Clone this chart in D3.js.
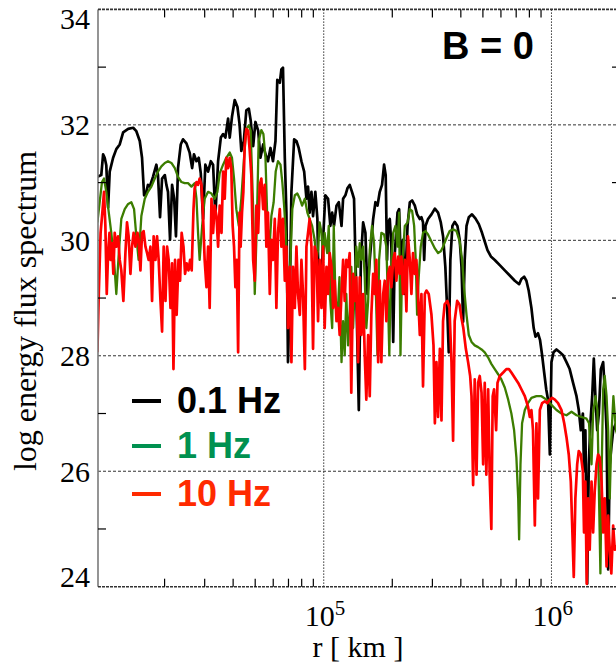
<!DOCTYPE html>
<html>
<head>
<meta charset="utf-8">
<script src="https://cdn.jsdelivr.net/npm/d3@7"></script>
<style>
  body { margin: 0; background: #fff; }
  .sans { font-family: "Liberation Sans", Arial, Helvetica, sans-serif; font-weight: bold; }
  .serif { font-family: "Liberation Serif", "Times New Roman", serif; }
</style>
</head>
<body>
<div class="canvas"></div>
<script>
// each point: [log10 r (km), log energy flux spectrum]
const flux01Hz = [
  [4.006,31.10],[4.023,31.13],[4.031,31.49],[4.038,31.43],[4.045,31.30],[4.053,30.57],[4.060,31.19],
  [4.075,31.43],[4.089,31.58],[4.104,31.66],[4.119,31.87],[4.141,31.93],[4.163,31.95],[4.177,31.89],
  [4.192,31.72],[4.202,31.43],[4.211,30.78],[4.221,30.84],[4.228,30.96],[4.236,30.93],[4.250,31.10],
  [4.265,31.31],[4.272,31.13],[4.281,30.40],[4.290,31.07],[4.302,31.13],[4.309,30.96],[4.316,30.84],
  [4.325,30.01],[4.334,30.96],[4.343,30.72],[4.351,30.07],[4.360,31.25],[4.372,31.66],[4.382,31.75],
  [4.397,31.68],[4.411,31.52],[4.422,31.25],[4.430,31.49],[4.441,31.37],[4.451,31.43],[4.460,31.16],
  [4.470,30.37],[4.480,31.31],[4.492,31.19],[4.504,31.37],[4.514,31.31],[4.524,30.42],[4.536,31.37],
  [4.548,31.78],[4.558,31.84],[4.568,31.78],[4.580,32.11],[4.587,31.78],[4.597,32.14],[4.609,32.43],
  [4.621,32.31],[4.630,32.02],[4.638,31.55],[4.649,31.72],[4.660,32.25],[4.671,32.28],[4.679,32.08],
  [4.690,31.63],[4.700,32.05],[4.712,31.90],[4.722,31.43],[4.734,31.66],[4.744,31.49],[4.755,31.37],
  [4.766,31.60],[4.777,31.37],[4.788,31.72],[4.796,32.78],[4.807,32.73],[4.814,32.96],[4.821,32.99],
  [4.829,31.43],[4.836,30.48],[4.843,27.89],[4.851,29.07],[4.858,30.84],[4.870,31.75],[4.880,31.72],
  [4.890,31.60],[4.902,31.37],[4.914,31.19],[4.924,30.72],[4.931,30.93],[4.938,30.48],[4.946,30.84],
  [4.953,30.42],[4.963,30.84],[4.972,30.37],[4.978,29.07],[4.987,28.95],[4.997,30.01],[5.007,30.78],
  [5.019,30.72],[5.029,30.25],[5.037,30.48],[5.045,30.25],[5.056,30.60],[5.066,30.66],[5.078,30.25],
  [5.085,30.72],[5.095,30.78],[5.104,30.90],[5.114,30.96],[5.124,30.84],[5.133,30.72],[5.143,29.07],
  [5.154,27.06],[5.163,29.66],[5.173,30.31],[5.183,30.13],[5.192,29.07],[5.202,29.66],[5.217,30.37],
  [5.227,30.66],[5.236,30.60],[5.246,30.84],[5.256,30.96],[5.265,31.31],[5.272,31.13],[5.278,29.66],
  [5.283,30.31],[5.290,30.37],[5.297,29.89],[5.305,28.24],[5.312,29.78],[5.324,30.48],[5.331,30.54],
  [5.338,29.66],[5.348,30.01],[5.356,29.07],[5.368,30.25],[5.378,30.66],[5.388,30.69],[5.400,30.60],
  [5.410,30.45],[5.422,30.37],[5.429,30.40],[5.436,30.31],[5.441,29.66],[5.447,30.25],[5.458,30.37],
  [5.473,30.45],[5.488,30.55],[5.502,30.48],[5.514,30.31],[5.524,30.07],[5.534,29.54],[5.543,28.71],
  [5.549,28.06],[5.556,29.66],[5.565,30.25],[5.575,30.32],[5.587,30.25],[5.597,30.01],[5.605,29.54],
  [5.612,28.59],[5.619,29.66],[5.627,30.25],[5.637,30.40],[5.651,30.45],[5.666,30.38],[5.681,30.28],
  [5.695,30.13],[5.707,29.98],[5.719,29.83],[5.734,29.72],[5.751,29.66],[5.773,29.57],[5.795,29.48],
  [5.817,29.39],[5.839,29.30],[5.858,29.24],[5.868,29.33],[5.880,29.37],[5.890,29.30],[5.900,29.13],
  [5.912,28.83],[5.922,28.48],[5.930,28.33],[5.941,28.39],[5.950,28.27],[5.959,28.01],[5.968,27.71],
  [5.977,27.42],[5.985,27.24],[5.993,26.29],[6.000,27.89],[6.009,28.06],[6.022,28.11],[6.037,28.06],
  [6.051,28.01],[6.066,27.89],[6.080,27.77],[6.095,27.53],[6.110,27.30],[6.120,27.06],[6.129,26.71],
  [6.138,27.00],[6.143,26.00],[6.149,26.71],[6.157,24.05],[6.164,26.12],[6.171,26.83],[6.179,27.30],
  [6.186,27.95],[6.193,27.30],[6.201,26.71],[6.208,27.00],[6.217,27.77],[6.227,27.89],[6.234,27.42],
  [6.242,26.71],[6.249,24.30],[6.256,26.12],[6.263,26.41],[6.271,26.71],[6.283,26.83],[6.300,26.60]
];

const flux1Hz = [
  [4.006,30.31],[4.016,30.66],[4.026,31.01],[4.035,31.07],[4.045,30.84],[4.056,30.48],[4.067,30.13],
  [4.079,29.66],[4.089,29.07],[4.100,29.78],[4.111,30.37],[4.126,30.54],[4.141,30.63],[4.155,30.66],
  [4.167,30.54],[4.177,30.07],[4.187,29.66],[4.199,30.42],[4.214,30.72],[4.228,30.84],[4.243,30.93],
  [4.258,31.07],[4.272,31.19],[4.287,31.28],[4.302,31.34],[4.316,31.37],[4.331,31.34],[4.346,31.25],
  [4.360,31.10],[4.375,31.01],[4.389,30.99],[4.404,30.99],[4.419,30.93],[4.433,30.99],[4.441,30.72],
  [4.448,30.13],[4.455,29.66],[4.466,30.25],[4.477,30.72],[4.492,30.84],[4.507,30.81],[4.521,30.72],
  [4.533,30.84],[4.543,31.16],[4.558,31.31],[4.572,31.43],[4.587,31.52],[4.597,31.43],[4.606,31.07],
  [4.616,30.54],[4.627,30.25],[4.638,30.72],[4.650,31.43],[4.660,31.93],[4.671,31.99],[4.679,31.90],
  [4.690,30.54],[4.697,29.07],[4.706,30.25],[4.714,31.72],[4.726,31.91],[4.735,31.84],[4.744,31.43],
  [4.753,30.25],[4.763,29.95],[4.770,30.42],[4.780,30.66],[4.789,31.19],[4.799,31.37],[4.810,31.31],
  [4.818,31.01],[4.826,30.60],[4.833,30.13],[4.843,29.07],[4.854,29.66],[4.862,30.54],[4.873,30.78],
  [4.884,30.81],[4.895,30.72],[4.905,30.60],[4.917,30.72],[4.928,30.48],[4.938,30.37],[4.949,30.25],
  [4.960,30.01],[4.968,29.66],[4.975,29.83],[4.982,30.31],[4.990,30.13],[4.998,29.66],[5.004,30.13],
  [5.015,29.78],[5.022,30.25],[5.029,28.95],[5.037,28.48],[5.044,30.25],[5.051,29.07],[5.060,28.60],
  [5.069,29.36],[5.078,27.89],[5.085,28.60],[5.092,28.01],[5.099,29.07],[5.107,28.18],[5.114,28.77],
  [5.121,29.54],[5.129,28.48],[5.136,29.19],[5.143,29.89],[5.151,29.54],[5.158,29.95],[5.165,29.66],
  [5.173,29.89],[5.180,29.36],[5.187,28.48],[5.195,28.95],[5.202,29.83],[5.212,30.25],[5.221,29.95],
  [5.230,28.95],[5.236,28.01],[5.243,29.66],[5.253,30.13],[5.265,30.10],[5.275,29.89],[5.283,28.83],
  [5.288,28.01],[5.294,29.36],[5.305,30.13],[5.315,30.25],[5.324,29.89],[5.331,30.48],[5.337,28.01],
  [5.344,29.54],[5.356,30.25],[5.368,30.31],[5.378,30.54],[5.388,30.51],[5.397,30.25],[5.404,29.66],
  [5.410,28.71],[5.417,29.36],[5.426,29.89],[5.436,30.13],[5.447,30.16],[5.458,30.10],[5.473,29.98],
  [5.488,29.86],[5.502,29.78],[5.514,29.81],[5.524,29.89],[5.539,30.04],[5.553,30.16],[5.568,30.19],
  [5.583,30.16],[5.597,29.98],[5.608,29.66],[5.616,29.19],[5.627,28.71],[5.637,28.36],[5.649,28.24],
  [5.663,28.18],[5.678,28.15],[5.693,28.11],[5.707,28.06],[5.722,27.97],[5.736,27.86],[5.751,27.77],
  [5.766,27.68],[5.780,27.59],[5.795,27.45],[5.810,27.24],[5.824,27.00],[5.836,26.71],[5.846,26.24],
  [5.854,25.53],[5.858,24.82],[5.864,26.12],[5.871,26.83],[5.883,27.06],[5.897,27.18],[5.912,27.27],
  [5.934,27.30],[5.956,27.30],[5.978,27.24],[6.000,27.15],[6.022,27.06],[6.044,27.00],[6.066,26.97],
  [6.088,27.03],[6.110,26.97],[6.132,26.94],[6.154,26.91],[6.165,26.83],[6.176,26.12],[6.183,27.00],
  [6.193,27.30],[6.202,27.06],[6.209,25.53],[6.215,24.23],[6.221,26.12],[6.227,27.42],[6.234,27.65],
  [6.242,27.30],[6.249,26.71],[6.256,25.53],[6.263,26.59],[6.272,27.30],[6.283,26.71],[6.300,26.50]
];

const flux10Hz = [
  [4.006,28.06],[4.012,29.07],[4.020,30.13],[4.029,30.54],[4.035,30.84],[4.041,30.25],[4.047,29.07],
  [4.053,29.78],[4.059,30.13],[4.064,29.66],[4.070,29.95],[4.076,29.42],[4.082,30.13],[4.089,29.89],
  [4.097,30.07],[4.104,29.66],[4.111,29.48],[4.120,28.95],[4.129,29.78],[4.136,30.31],[4.143,30.07],
  [4.151,29.42],[4.158,29.89],[4.165,30.13],[4.173,29.89],[4.182,30.13],[4.187,30.01],[4.195,29.48],
  [4.202,30.13],[4.209,30.16],[4.217,29.89],[4.224,29.78],[4.231,29.66],[4.239,29.89],[4.246,28.95],
  [4.253,30.07],[4.261,29.66],[4.268,30.07],[4.275,29.66],[4.283,28.95],[4.290,28.42],[4.297,29.89],
  [4.305,28.95],[4.312,29.89],[4.319,29.66],[4.327,28.83],[4.334,29.60],[4.340,27.77],[4.347,29.66],
  [4.354,28.71],[4.362,29.66],[4.369,29.30],[4.376,30.13],[4.384,29.89],[4.391,29.42],[4.398,29.60],
  [4.406,29.48],[4.413,29.66],[4.420,29.48],[4.428,30.54],[4.433,30.90],[4.441,31.01],[4.448,30.96],
  [4.455,31.07],[4.463,30.96],[4.470,30.42],[4.477,29.66],[4.485,29.19],[4.492,29.89],[4.499,28.83],
  [4.507,30.72],[4.514,30.13],[4.521,30.60],[4.529,30.42],[4.536,29.89],[4.543,30.60],[4.551,30.13],
  [4.558,31.19],[4.565,30.72],[4.572,31.43],[4.580,31.25],[4.587,31.43],[4.594,31.25],[4.600,30.25],
  [4.606,29.89],[4.612,29.19],[4.618,29.66],[4.624,28.06],[4.630,30.48],[4.635,29.89],[4.641,30.48],
  [4.647,30.84],[4.653,31.66],[4.660,31.93],[4.668,31.90],[4.675,31.55],[4.682,31.13],[4.690,29.66],
  [4.697,29.30],[4.704,30.60],[4.712,30.13],[4.719,30.96],[4.726,31.07],[4.734,30.54],[4.741,30.96],
  [4.748,29.89],[4.755,30.48],[4.763,29.07],[4.770,30.01],[4.777,29.66],[4.785,30.37],[4.792,28.83],
  [4.799,30.13],[4.807,30.54],[4.814,29.89],[4.821,30.37],[4.829,29.30],[4.836,29.89],[4.843,28.48],
  [4.851,29.54],[4.858,27.89],[4.865,29.54],[4.873,28.83],[4.880,29.89],[4.887,29.07],[4.895,28.71],
  [4.902,29.66],[4.909,29.07],[4.917,27.77],[4.924,29.89],[4.931,30.13],[4.938,30.37],[4.946,29.89],
  [4.953,28.12],[4.960,29.89],[4.968,29.78],[4.975,28.60],[4.982,29.66],[4.990,28.83],[4.997,29.89],
  [5.004,28.48],[5.012,29.54],[5.019,29.07],[5.026,29.78],[5.034,29.54],[5.041,28.83],[5.048,29.30],
  [5.056,28.60],[5.063,28.83],[5.070,28.36],[5.078,29.07],[5.085,29.66],[5.092,28.95],[5.099,29.66],
  [5.107,29.54],[5.114,29.78],[5.121,27.36],[5.129,29.42],[5.136,28.95],[5.143,29.36],[5.151,27.89],
  [5.158,29.36],[5.165,28.36],[5.173,29.07],[5.180,28.01],[5.187,27.24],[5.195,28.36],[5.202,27.30],
  [5.209,28.71],[5.217,29.42],[5.224,29.07],[5.231,29.66],[5.239,27.89],[5.246,29.30],[5.253,27.89],
  [5.261,29.07],[5.268,29.30],[5.275,28.60],[5.283,29.42],[5.290,29.54],[5.297,29.19],[5.305,29.66],
  [5.312,29.78],[5.319,29.30],[5.327,29.72],[5.334,29.42],[5.341,29.72],[5.348,29.07],[5.356,29.66],
  [5.363,28.77],[5.370,30.07],[5.378,29.66],[5.385,29.07],[5.392,29.78],[5.400,29.42],[5.407,29.66],
  [5.414,29.07],[5.422,28.36],[5.429,29.07],[5.436,27.47],[5.444,29.07],[5.451,29.13],[5.461,29.07],
  [5.473,28.71],[5.482,28.18],[5.488,26.83],[5.495,27.89],[5.502,26.94],[5.510,28.12],[5.517,26.88],
  [5.524,28.60],[5.531,28.89],[5.543,28.95],[5.552,28.83],[5.561,27.89],[5.568,26.53],[5.575,28.60],
  [5.586,28.95],[5.596,28.89],[5.605,28.65],[5.613,28.48],[5.624,28.12],[5.634,27.89],[5.643,27.65],
  [5.649,27.30],[5.656,25.76],[5.663,27.59],[5.671,25.94],[5.678,27.53],[5.685,27.65],[5.693,27.36],
  [5.700,26.12],[5.707,27.53],[5.714,25.94],[5.722,27.42],[5.729,25.88],[5.736,25.00],[5.742,27.30],
  [5.748,27.42],[5.757,26.71],[5.763,27.53],[5.773,27.65],[5.788,27.71],[5.802,27.77],[5.813,27.77],
  [5.824,27.71],[5.839,27.62],[5.854,27.53],[5.868,27.42],[5.883,27.30],[5.897,27.12],[5.905,26.94],
  [5.912,27.06],[5.919,26.71],[5.927,25.06],[5.934,26.83],[5.941,25.53],[5.949,27.06],[5.959,27.18],
  [5.971,27.21],[5.982,27.18],[5.993,27.24],[6.003,27.27],[6.015,27.24],[6.029,27.18],[6.044,27.06],
  [6.056,26.83],[6.066,26.59],[6.076,26.29],[6.085,25.82],[6.092,24.94],[6.098,24.17],[6.105,25.53],
  [6.113,26.12],[6.120,26.35],[6.129,26.29],[6.138,26.00],[6.143,24.94],[6.149,25.82],[6.155,24.05],
  [6.161,25.53],[6.168,24.64],[6.176,25.82],[6.183,24.94],[6.190,25.65],[6.198,26.12],[6.205,26.29],
  [6.212,26.24],[6.220,25.82],[6.227,24.94],[6.234,25.53],[6.242,24.35],[6.249,25.23],[6.256,24.64],
  [6.263,24.23],[6.271,25.06],[6.278,24.64],[6.300,24.80]
];

const seriesLabels = ['0.1 Hz', '1 Hz', '10 Hz'];
const yTicks = [24, 26, 28, 30, 32, 34];
const yMinor = [25, 27, 29, 31, 33];
const xTicks = [1e5, 1e6];
const xMinor = [2e4, 3e4, 4e4, 5e4, 6e4, 7e4, 8e4, 9e4, 2e5, 3e5, 4e5, 5e5, 6e5, 7e5, 8e5, 9e5];

const lineColors = ['#000000', '#3c7d00', '#ff0000'];
const textColors = ['#000000', '#009150', '#ff2a00'];

const plotLeft = 98, plotRight = 620, plotTop = 9.4, plotBottom = 586.7;

const svg = d3.select('.canvas').append('svg')
    .attr('width', 616)
    .attr('height', 665);

const x = d3.scaleLog().domain([1.02e4, 2e6]).range([plotLeft, plotRight]);
const y = d3.scaleLinear().domain([24, 34]).range([plotBottom, plotTop]);

svg.append('clipPath').attr('id', 'plot')
  .append('rect')
    .attr('x', plotLeft).attr('y', plotTop)
    .attr('width', plotRight - plotLeft).attr('height', plotBottom - plotTop);

// grid
svg.append('g').selectAll('line')
  .data(yTicks.slice(1, -1))
  .join('line')
    .attr('x1', plotLeft).attr('x2', plotRight)
    .attr('y1', d => y(d)).attr('y2', d => y(d))
    .attr('stroke', '#333').attr('stroke-width', 1)
    .attr('stroke-dasharray', '3,2');

svg.append('g').selectAll('line')
  .data(xTicks)
  .join('line')
    .attr('x1', d => x(d)).attr('x2', d => x(d))
    .attr('y1', plotTop).attr('y2', plotBottom)
    .attr('stroke', '#333').attr('stroke-width', 1)
    .attr('stroke-dasharray', '1.5,1.5');

// curves
const line = d3.line()
    .x(d => x(Math.pow(10, d[0])))
    .y(d => y(d[1]));

const curves = svg.append('g').attr('clip-path', 'url(#plot)');
[flux01Hz, flux1Hz, flux10Hz].forEach((s, i) => {
  curves.append('path')
    .datum(s)
    .attr('d', line)
    .attr('fill', 'none')
    .attr('stroke', lineColors[i])
    .attr('stroke-width', i === 1 ? 2.3 : 2.7)
    .attr('stroke-linejoin', 'round');
});

// frame
svg.append('line')
    .attr('x1', plotLeft).attr('x2', plotLeft).attr('y1', plotTop).attr('y2', plotBottom)
    .attr('stroke', '#7a7a7a').attr('stroke-width', 1.6);
svg.append('line')
    .attr('x1', plotRight).attr('x2', plotRight).attr('y1', plotTop).attr('y2', plotBottom)
    .attr('stroke', '#333').attr('stroke-width', 1.5);
[plotTop, plotBottom].forEach(v => {
  svg.append('line')
    .attr('x1', plotLeft).attr('x2', plotRight).attr('y1', v).attr('y2', v)
    .attr('stroke', '#333').attr('stroke-width', 1.6)
    .attr('stroke-dasharray', '3,1');
});

// minor ticks
const ticks = svg.append('g').attr('stroke', '#000').attr('stroke-width', 1.2);
xMinor.forEach(d => {
  ticks.append('line').attr('x1', x(d)).attr('x2', x(d)).attr('y1', plotBottom).attr('y2', plotBottom - 8);
  ticks.append('line').attr('x1', x(d)).attr('x2', x(d)).attr('y1', plotTop).attr('y2', plotTop + 8);
});
yMinor.forEach(d => {
  ticks.append('line').attr('x1', plotLeft).attr('x2', plotLeft + 8).attr('y1', y(d)).attr('y2', y(d));
  ticks.append('line').attr('x1', plotRight).attr('x2', plotRight - 8).attr('y1', y(d)).attr('y2', y(d));
});

// tick labels
svg.append('g').selectAll('text')
  .data(yTicks)
  .join('text')
    .attr('class', 'serif')
    .attr('x', 90)
    .attr('y', d => d === 34 ? 28.5 : d === 24 ? plotBottom : y(d) + 10.5)
    .attr('text-anchor', 'end')
    .style('font-size', '30px')
    .text(d => d);

const xl = svg.append('g').selectAll('text')
  .data(xTicks)
  .join('text')
    .attr('class', 'serif')
    .attr('x', d => x(d) - 19)
    .attr('y', 626)
    .style('font-size', '30px');
xl.append('tspan').text('10');
xl.append('tspan')
    .attr('dy', -11)
    .style('font-size', '21px')
    .text(d => Math.round(Math.log10(d)));

svg.append('text')
    .attr('class', 'serif')
    .attr('x', 358).attr('y', 657)
    .attr('text-anchor', 'middle')
    .style('font-size', '30px')
    .text('r [ km ]');

svg.append('text')
    .attr('class', 'serif')
    .attr('transform', 'translate(36, 311) rotate(-90)')
    .attr('text-anchor', 'middle')
    .style('font-size', '32px')
    .text('log energy flux spectrum');

// title
svg.append('text')
    .attr('class', 'sans')
    .attr('x', 442).attr('y', 59)
    .style('font-size', '38px')
    .text('B = 0');

// legend
const leg = svg.append('g').selectAll('g')
  .data(seriesLabels)
  .join('g')
    .attr('transform', (d, i) => `translate(0, ${[413, 458, 506][i]})`);
leg.append('line')
    .attr('x1', 132).attr('x2', 161).attr('y1', -12).attr('y2', -12)
    .attr('stroke', (d, i) => textColors[i])
    .attr('stroke-width', 4);
leg.append('text')
    .attr('class', 'sans')
    .attr('x', 177)
    .attr('fill', (d, i) => textColors[i])
    .style('font-size', '36px')
    .text(d => d);
</script>
</body>
</html>
